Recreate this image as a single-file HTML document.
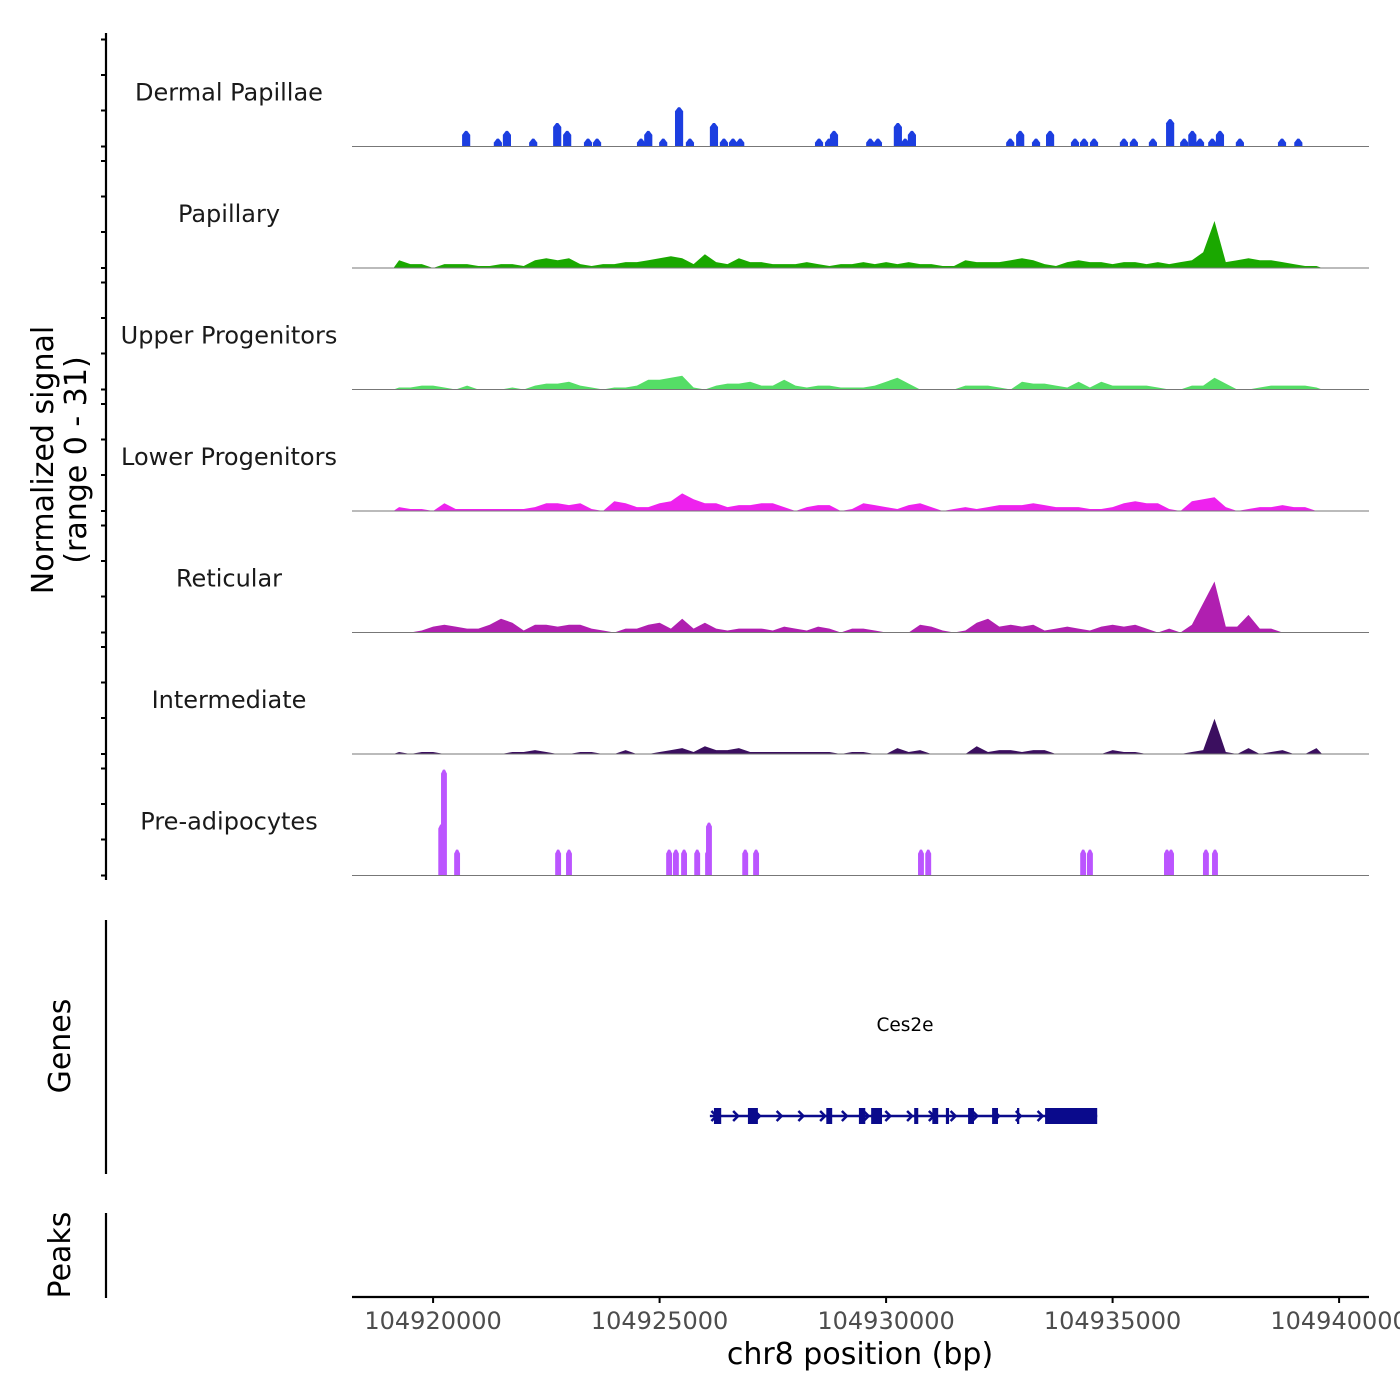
<!DOCTYPE html>
<html><head><meta charset="utf-8"><style>
html,body{margin:0;padding:0;background:#fff;}
svg{display:block;font-family:"DejaVu Sans","Liberation Sans",sans-serif;}
</style></head><body>
<svg id="chart" width="1400" height="1400" viewBox="0 0 1400 1400" xmlns="http://www.w3.org/2000/svg">
<g id="tracks"></g>
<g id="axes"></g>
<g id="genes"></g>
</svg>
<script>
// ---- data ----
const trackNames = ["Dermal Papillae","Papillary","Upper Progenitors","Lower Progenitors","Reticular","Intermediate","Pre-adipocytes"];
const trackColors = ["#1c3ee0","#1aa800","#55dd66","#ee22ee","#b01fb0","#3b0f5f","#bb55ff"];
const xTickValues = [104920000,104925000,104930000,104935000,104940000];
const xTickLabels = ["104920000","104925000","104930000","104935000","104940000"];
// binned tracks: start kb (offset from 104918000), 0.25 kb step
const binStartKb = 1.25;
const binStepKb = 0.25;
const papillaryVals = [2,1,1,0,1, 1,1,0.5,0.5,1, 1,0.5,2,2.5,2, 2.5,1,0.5,1,1, 1.5,1.5,2,2.5,3, 2.5,1,3.5,1.5,1, 2.5,1.5,1.5,1,1, 1,1.5,1,0.5,1, 1,1.5,1,1.5,1, 1.5,1,1,0.5,0.5, 2,1.5,1.5,1.5,2, 2.5,2,1,0.5,1.5, 2,1.5,1.5,1,1.5, 1.5,1,1.5,1,1.5, 2,4,12,1.5,2, 2.5,2,2,1.5,1, 0.5,0.5];
const upperVals = [0.5,0.5,1,1,0.5, 0,1,0,0,0, 0.5,0,1,1.5,1.5, 2,1,0.5,0,0.5, 0.5,1,2.5,2.5,3, 3.5,0.5,0,1,1.5, 1.5,2,1,1,2.5, 1,0.5,1,1,0.5, 0.5,0.5,1,2,3, 1.5,0,0,0,0, 1,1,1,0.5,0, 2,1.5,1.5,1,0.5, 2,0.5,2,1,1, 1,1,0.5,0,0, 1,1,3,1.5,0, 0,0.5,1,1,1, 1,0.5];
const lowerVals = [1,0.5,0.5,0,2, 0.5,0.5,0.5,0.5,0.5, 0.5,0.5,1,2,2, 1.5,2,0.5,0,2.5, 2,1,1,2,2.5, 4.5,3,2,2,1, 1.5,1.5,2,2,1, 0,1,1.5,1.5,0, 0.5,2,1.5,1,0.5, 1.5,2,1,0,0.5, 1,0.5,1,1.5,1.5, 1.5,2,1.5,1,1, 1,0.5,0.5,1,2, 2.5,2,2,0.5,0, 2.5,3,3.5,1,0, 0.5,1,1,1.5,1, 1,0];
const reticularVals = [0,0,0.5,1.5,2, 1.5,1,1,2,3.5, 2.5,0.5,2,2,1.5, 2,2,1,0.5,0, 1,1,2,2.5,1, 3.5,1,2.5,1,0.5, 1,1,1,0.5,1.5, 1,0.5,1.5,1,0, 1,1,0.5,0,0, 0,2,1.5,0.5,0, 0.5,2.5,3.5,1.5,2, 1.5,2,0.5,1,1.5, 1,0.5,1.5,2,1.5, 2,1,0,1,0, 2,7.5,13,1.5,1.5, 4.5,1,1,0,0, 0,0];
const intermediateVals = [0.5,0,0.5,0.5,0, 0,0,0,0,0, 0.5,0.5,1,0.5,0, 0,0.5,0.5,0,0, 1,0,0,0.5,1, 1.5,0.5,2,1,1, 1.5,0.5,0.5,0.5,0.5, 0.5,0.5,0.5,0.5,0, 0.5,0.5,0,0,1.5, 0.5,1,0,0,0, 0,2,0.5,1,1, 0.5,1,1,0,0, 0,0,0,1,0.5, 0.5,0,0,0,0, 0.5,1,9,0.5,0, 1.5,0,0.5,1,0, 0,1.5];
// peak tracks: positions (kb offset from 104918000) and signal values
const dermalPos = [2.73,3.43,3.63,4.21,4.74,4.96,5.42,5.62,6.59,6.75,7.08,7.43,7.67,8.20,8.42,8.62,8.78,10.52,10.74,10.85,11.65,11.82,12.26,12.42,12.57,14.74,14.96,15.31,15.62,16.17,16.37,16.59,17.25,17.47,17.89,18.27,18.58,18.76,18.93,19.20,19.37,19.81,20.74,21.10];
const dermalVals = [4,2,4,2,6,4,2,2,2,4,2,10,2,6,2,2,2,2,2,4,2,2,6,2,4,2,4,2,4,2,2,2,2,2,2,7,2,4,2,2,4,2,2,2];
const preadipPos = [2.18,2.24,2.53,4.76,5.00,7.21,7.36,7.54,7.83,8.07,8.09,8.89,9.13,12.77,12.93,16.35,16.50,18.20,18.29,19.06,19.26];
const preadipVals = [13,27,6.6,6.6,6.6,6.6,6.6,6.6,6.6,6.6,13.5,6.6,6.6,6.6,6.6,6.6,6.6,6.6,6.6,6.6,6.6];
const geneStartKb = 8.11, geneEndKb = 16.66;
const exonStarts = [8.20,8.95,10.68,11.40,11.67,12.62,13.02,13.32,13.81,14.34,14.89,15.51];
const exonEnds   = [8.36,9.17,10.81,11.54,11.91,12.71,13.15,13.39,13.94,14.47,14.94,16.66];

// ---- scales ----
const X0 = 352, X1 = 1369, KB0 = 0.21, KB1 = 22.66;
function xKb(kb){ return X0 + (kb-KB0)/(KB1-KB0)*(X1-X0); }
function xBp(bp){ return xKb((bp-104918000)/1000); }
const trackH = 121.5, firstBase = 146.5, yUnit = trackH/31;
function baseY(t){ return firstBase + t*trackH; }
function yVal(t,v){ return baseY(t) - v*yUnit; }

const NS = "http://www.w3.org/2000/svg";
function mk(tag, attrs, parent){ const e=document.createElementNS(NS,tag); for(const k in attrs) e.setAttribute(k,attrs[k]); parent.appendChild(e); return e; }
const gT = document.getElementById('tracks'), gA = document.getElementById('axes'), gG = document.getElementById('genes');

const binned = {1:papillaryVals,2:upperVals,3:lowerVals,4:reticularVals,5:intermediateVals};
const peaks = {0:[dermalPos,dermalVals,0.18],6:[preadipPos,preadipVals,0.13]};

for(let t=0;t<7;t++){
  const b = baseY(t);
  const lbl = mk('text',{x:229,y:b-46,'text-anchor':'middle','font-size':24,fill:'#1a1a1a'},gT);
  lbl.textContent = trackNames[t];
  
  
  if(binned[t]){
    const vals = binned[t];
    let pts = [[xKb(binStartKb-binStepKb/2),b]];
    vals.forEach((v,i)=>{ pts.push([xKb(binStartKb+i*binStepKb), yVal(t,v)]); });
    pts.push([xKb(binStartKb+(vals.length-1)*binStepKb+binStepKb/2),b]);
    const p = mk('polygon',{points:pts.map(q=>q[0].toFixed(1)+','+q[1].toFixed(1)).join(' '),fill:trackColors[t]},gT);
    
    
  } else {
    const [pos,vals,w] = peaks[t];
    pos.forEach((kb,i)=>{
      const xa=xKb(kb-w/2), xb=xKb(kb+w/2), xc=xKb(kb), y=yVal(t,vals[i]);
      const p = mk('polygon',{points:`${xa},${b} ${xa},${y+4} ${xc-1},${y} ${xc+1},${y} ${xb},${y+4} ${xb},${b}`,fill:trackColors[t]},gT);
      
      
    });
  }
  const ln = mk('line',{x1:X0,x2:X1,y1:b,y2:b,stroke:'#777','stroke-width':1},gT);
  
  
  [107,71.5,36,0].forEach(d=>{
    const tk = mk('line',{x1:101,x2:106,y1:b-d,y2:b-d,stroke:'#000','stroke-width':2},gA);
    
    
  });
}
// spines
[[33,880,'signal-axis-line'],[920,1174,'genes-axis-line'],[1213,1298,'peaks-axis-line']].forEach(s=>{
  const l = mk('line',{x1:106,x2:106,y1:s[0],y2:s[1],stroke:'#000','stroke-width':2.2},gA);
  
  
});
const xl = mk('line',{x1:X0,x2:X1,y1:1297,y2:1297,stroke:'#000','stroke-width':2.2},gA);


xTickValues.forEach((v,i)=>{
  const x = xBp(v);
  const tk = mk('line',{x1:x,x2:x,y1:1297,y2:1303,stroke:'#000','stroke-width':2},gA);
  
  
  const tl = mk('text',{x:x,y:1329,'text-anchor':'middle','font-size':24,fill:'#4d4d4d'},gA);
  tl.textContent = xTickLabels[i];
  
  
});
const xt = mk('text',{x:860,y:1364,'text-anchor':'middle','font-size':30,fill:'#000'},gA);
xt.textContent = 'chr8 position (bp)';


const yt = mk('text',{transform:'translate(53,460) rotate(-90)','text-anchor':'middle','font-size':30,fill:'#000'},gA);


const ts1 = mk('tspan',{x:0,dy:0},yt); ts1.textContent='Normalized signal';
const ts2 = mk('tspan',{x:0,dy:33},yt); ts2.textContent='(range 0 - 31)';
const gt = mk('text',{transform:'translate(70,1046) rotate(-90)','text-anchor':'middle','font-size':30,fill:'#000'},gA);
gt.textContent='Genes';


const pt = mk('text',{transform:'translate(70,1255) rotate(-90)','text-anchor':'middle','font-size':30,fill:'#000'},gA);
pt.textContent='Peaks';


// gene
const gy = 1116, gc = '#0a0a8c';
const gl = mk('line',{x1:xKb(geneStartKb),x2:xKb(geneEndKb),y1:gy,y2:gy,stroke:gc,'stroke-width':2.5},gG);


for(let kb=geneStartKb+0.1; kb<geneEndKb-0.8; kb+=0.48){
  const x=xKb(kb);
  const a = mk('polyline',{points:`${x-3},${gy-5} ${x+2},${gy} ${x-3},${gy+5}`,fill:'none',stroke:gc,'stroke-width':2.5},gG);
  
  
}
exonStarts.forEach((s,i)=>{
  const x1=xKb(s), x2=xKb(exonEnds[i]);
  const r = mk('rect',{x:x1,y:gy-8,width:Math.max(2,x2-x1),height:16,fill:gc},gG);
  
  
});
const gn = mk('text',{x:905,y:1031,'text-anchor':'middle','font-size':18.5,fill:'#000'},gG);
gn.textContent='Ces2e';


</script>
</body></html>
